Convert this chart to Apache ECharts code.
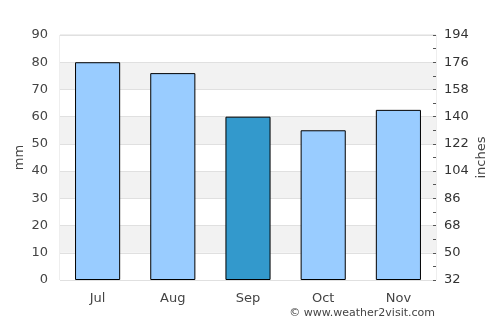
<!DOCTYPE html>
<html>
<head>
<meta charset="utf-8">
<script src="https://cdn.jsdelivr.net/npm/echarts@6/dist/echarts.min.js"></script>
<style>
html,body{margin:0;padding:0;background:#fff;}
#chart{width:500px;height:325px;}
</style>
</head>
<body>
<div id="chart"></div>
<script>
var months = ['Jul', 'Aug', 'Sep', 'Oct', 'Nov'];
var rainMm = [80, 76, 60, 55, 62.5];
var highlight = [false, false, true, false, false];

var chart = echarts.init(document.getElementById('chart'));

var font = 'DejaVu Sans';

chart.setOption({
    animation: false,
    textStyle: { fontFamily: font },
    grid: { left: 60, right: 64, top: 35, bottom: 45, show: true, borderColor: '#dddddd', borderWidth: 1 },
    xAxis: {
        type: 'category',
        data: months,
        axisLine: { show: false },
        axisTick: { show: false },
        axisLabel: { color: '#444', fontSize: 13, margin: 12, fontFamily: font }
    },
    yAxis: [{
        type: 'value',
        min: 0, max: 90, interval: 10,
        name: 'mm',
        nameLocation: 'middle',
        nameGap: 40,
        nameMoveOverlap: false,
        nameTextStyle: { color: '#444', fontSize: 13, fontFamily: font, verticalAlign: 'middle' },
        axisLine: { show: false },
        axisTick: { show: false },
        axisLabel: { color: '#444', fontSize: 13, margin: 12, fontFamily: font },
        splitLine: { show: true, lineStyle: { color: '#e0e0e0' } },
        splitArea: { show: true, areaStyle: { color: ['#ffffff', '#f2f2f2'] } }
    }, {
        type: 'value',
        min: 0, max: 90, interval: 10,
        position: 'right',
        name: 'inches',
        nameLocation: 'middle',
        nameGap: 46,
        nameMoveOverlap: false,
        nameTextStyle: { color: '#444', fontSize: 13, fontFamily: font, verticalAlign: 'middle' },
        axisLine: { show: false },
        axisTick: { show: true, inside: true, length: 3, lineStyle: { color: '#555' } },
        minorTick: { show: true, splitNumber: 2, length: 3, lineStyle: { color: '#555' } },
        axisLabel: {
            color: '#333', fontSize: 13, margin: 8, fontFamily: font,
            formatter: function (v) { return Math.round(v * 1.8 + 32); }
        },
        splitLine: { show: false }
    }],
    series: [{
        type: 'bar',
        barWidth: '60%',
        data: rainMm.map(function (v, i) {
            return {
                value: v,
                itemStyle: { color: highlight[i] ? '#3399cc' : '#99ccff', borderColor: '#000', borderWidth: 1 }
            };
        })
    }],
    graphic: [{
        type: 'text',
        right: 65,
        top: 308,
        style: { text: '© www.weather2visit.com', font: '11px DejaVu Sans', fill: '#444' }
    }]
});
</script>
</body>
</html>
